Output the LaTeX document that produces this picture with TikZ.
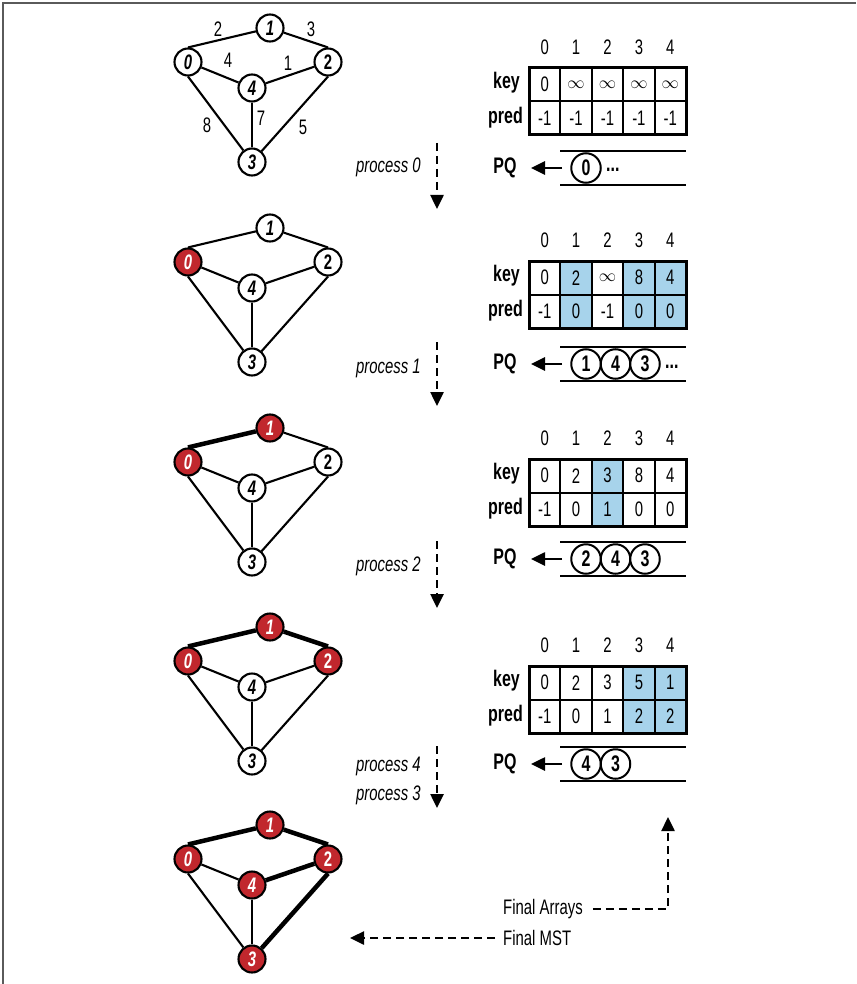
\documentclass[tikz,border=0pt]{standalone}
\usepackage{fontspec}
\setmainfont[FakeStretch=0.71]{Liberation Sans}
\usetikzlibrary{arrows.meta}
\definecolor{mstred}{HTML}{C1272D}
\definecolor{cellblue}{HTML}{A7D3EB}
\definecolor{framegray}{HTML}{5A5A5A}
\pgfdeclarelayer{bg}
\pgfsetlayers{bg,main}
\newcommand\fs{\fontsize{21}{24}\selectfont}
\newcommand\fb{\fontsize{22.5}{26}\selectfont\bfseries}
\newcommand\infsym{{\fontsize{17}{19}\selectfont$\infty$}}
\newcommand\mstgraph[1]{%
  \node[vtx,s0] (#1-0) at (188,62) {0};
  \node[vtx,s1] (#1-1) at (270,28) {1};
  \node[vtx,upright,s2] (#1-2) at (328,62) {2};
  \node[vtx,s3] (#1-3) at (252,162) {3};
  \node[vtx,s4] (#1-4) at (252,88) {4};
  \begin{pgfonlayer}{bg}
    \draw[edge,e01] (#1-1) -- (#1-0.north);
    \draw[edge,e12] (#1-1) -- (#1-2.north);
    \draw[edge,e04] (#1-0) -- (#1-4);
    \draw[edge,e24] (#1-2) -- (#1-4);
    \draw[edge,e03] (#1-0.south) -- (#1-3);
    \draw[edge,e23] (#1-2.south) -- (#1-3);
    \draw[edge,e34] (#1-4) -- (#1-3);
  \end{pgfonlayer}
}
\newcommand\statetable[3]{%
  \foreach \i/\k/\p/\kf/\pf in {#3} {
    \node[cellbox,fill=\kf] (#1-k\i) at ({529+31.4*\i+15.7},{#2+16.75}) {\k};
    \node[cellbox,fill=\pf] (#1-p\i) at ({529+31.4*\i+15.7},{#2+50.25}) {\p};
    \node[plain] (#1-h\i) at ({529+31.4*\i+15.7},{#2-20.5}) {\i};
  }
  \draw[line width=3pt] (529,#2) rectangle (686,{#2+67});
  \node[boldlbl,anchor=east] (#1-key) at (520,{#2+15}) {key};
  \node[boldlbl,anchor=east] (#1-pred) at (523,{#2+50}) {pred};
}
\newcommand\pqrow[4]{%
  \draw[pqline] (560,#2) -- (686,#2);
  \draw[pqline] (560,{#2+34}) -- (686,{#2+34});
  \node[boldlbl] (#1-pq) at (505,{#2+17}) {PQ};
  \coordinate (#1-as) at (562,{#2+17});
  \coordinate (#1-ae) at (531,{#2+17});
  \draw[pqarrow] (#1-as) -- (#1-ae);
  \foreach \j/\v in {#3} {
    \node[qnode] (#1-q\j) at ({586+29.5*\j},{#2+17}) {\v};
  }
  #4
}
\begin{document}
\begin{tikzpicture}[x=1pt,y=-1pt,font=\fs,
  vtx/.style={circle,draw,line width=2.1pt,minimum size=27pt,inner sep=0pt,fill=white,
    font=\fs\bfseries\itshape},
  upright/.style={font=\fs\bfseries\upshape},
  redv/.style={fill=mstred,text=white},
  edge/.style={line width=2.1pt},
  heavy/.style={line width=4.5pt},
  s0/.style={},s1/.style={},s2/.style={},s3/.style={},s4/.style={},
  e01/.style={},e12/.style={},e04/.style={},e24/.style={},e03/.style={},e23/.style={},e34/.style={},
  cellbox/.style={draw,line width=2pt,minimum width=31.4pt,minimum height=33.5pt,inner sep=0pt,font=\fs},
  plain/.style={inner sep=0pt,font=\fs},
  elbl/.style={inner sep=0pt,font=\fs},
  boldlbl/.style={inner sep=0pt,font=\fb},
  dots/.style={inner sep=0pt,font=\fb,anchor=west},
  proclbl/.style={inner sep=0pt,font=\fs\itshape,anchor=east},
  pqline/.style={line width=1.6pt},
  pqarrow/.style={line width=2.6pt,-{Triangle[length=14pt,width=13pt]}},
  qnode/.style={circle,draw,line width=2pt,minimum size=29.5pt,inner sep=0pt,fill=white,font=\fb},
  dasharrow/.style={line width=2.5pt,dash pattern=on 8pt off 5pt,-{Triangle[length=14pt,width=13pt]}}
]
\useasboundingbox (0,0) rectangle (856,984);
\draw[framegray,line width=2pt] (3,984) -- (3,3) -- (856,3);

% ---------- graphs ----------
\begin{scope}
  \mstgraph{g1}
  \node[elbl] (l01) at (218,29) {2};
  \node[elbl] (l12) at (311,29) {3};
  \node[elbl] (l04) at (228,60) {4};
  \node[elbl] (l24) at (288,63) {1};
  \node[elbl] (l03) at (207,125) {8};
  \node[elbl] (l34) at (261,118) {7};
  \node[elbl] (l23) at (303,127) {5};
\end{scope}
\begin{scope}[shift={(0,200)},s0/.style={redv}]
  \mstgraph{g2}
\end{scope}
\begin{scope}[shift={(0,400)},s0/.style={redv},s1/.style={redv},e01/.style={heavy}]
  \mstgraph{g3}
\end{scope}
\begin{scope}[shift={(0,599)},s0/.style={redv},s1/.style={redv},s2/.style={redv},
  e01/.style={heavy},e12/.style={heavy}]
  \mstgraph{g4}
\end{scope}
\begin{scope}[shift={(0,797)},s0/.style={redv},s1/.style={redv},s2/.style={redv},
  s3/.style={redv},s4/.style={redv},
  e01/.style={heavy},e12/.style={heavy},e24/.style={heavy},e23/.style={heavy}]
  \mstgraph{g5}
\end{scope}

% ---------- process arrows ----------
\node[proclbl] (p0) at (421,167) {process 0};
\coordinate (p0s) at (437,143); \coordinate (p0e) at (437,209);
\draw[dasharrow] (p0s) -- (p0e);
\node[proclbl] (p1) at (421,368) {process 1};
\coordinate (p1s) at (437,342); \coordinate (p1e) at (437,406);
\draw[dasharrow] (p1s) -- (p1e);
\node[proclbl] (p2) at (421,566) {process 2};
\coordinate (p2s) at (437,541); \coordinate (p2e) at (437,608);
\draw[dasharrow] (p2s) -- (p2e);
\node[proclbl] (p4) at (421,766) {process 4};
\node[proclbl] (p3) at (421,795) {process 3};
\coordinate (p3s) at (437,746); \coordinate (p3e) at (437,808);
\draw[dasharrow] (p3s) -- (p3e);

% ---------- tables ----------
\statetable{t1}{68}{0/0/-1/white/white,1/\infsym/-1/white/white,2/\infsym/-1/white/white,3/\infsym/-1/white/white,4/\infsym/-1/white/white}
\pqrow{q1}{151}{0/0}{\node[dots] (q1-dots) at (606,170) {...};}

\statetable{t2}{261}{0/0/-1/white/white,1/2/0/cellblue/cellblue,2/\infsym/-1/white/white,3/8/0/cellblue/cellblue,4/4/0/cellblue/cellblue}
\pqrow{q2}{347}{0/1,1/4,2/3}{\node[dots] (q2-dots) at (665,367) {...};}

\statetable{t3}{459}{0/0/-1/white/white,1/2/0/white/white,2/3/1/cellblue/cellblue,3/8/0/white/white,4/4/0/white/white}
\pqrow{q3}{542}{0/2,1/4,2/3}{}

\statetable{t4}{666}{0/0/-1/white/white,1/2/0/white/white,2/3/1/white/white,3/5/2/cellblue/cellblue,4/1/2/cellblue/cellblue}
\pqrow{q4}{747}{0/4,1/3}{}

% ---------- final labels ----------
\node[plain,anchor=west] (fa) at (503,909) {Final Arrays};
\coordinate (fac) at (668,909);
\coordinate (fat) at (668,817);
\draw[dasharrow] ([xshift=10pt]fa.east) -- (fac) -- (fat);
\node[plain,anchor=west] (fm) at (503,938) {Final MST};
\coordinate (fmt) at (350,938);
\draw[dasharrow] ([xshift=-8pt]fm.west) -- (fmt);
\end{tikzpicture}
\end{document}
